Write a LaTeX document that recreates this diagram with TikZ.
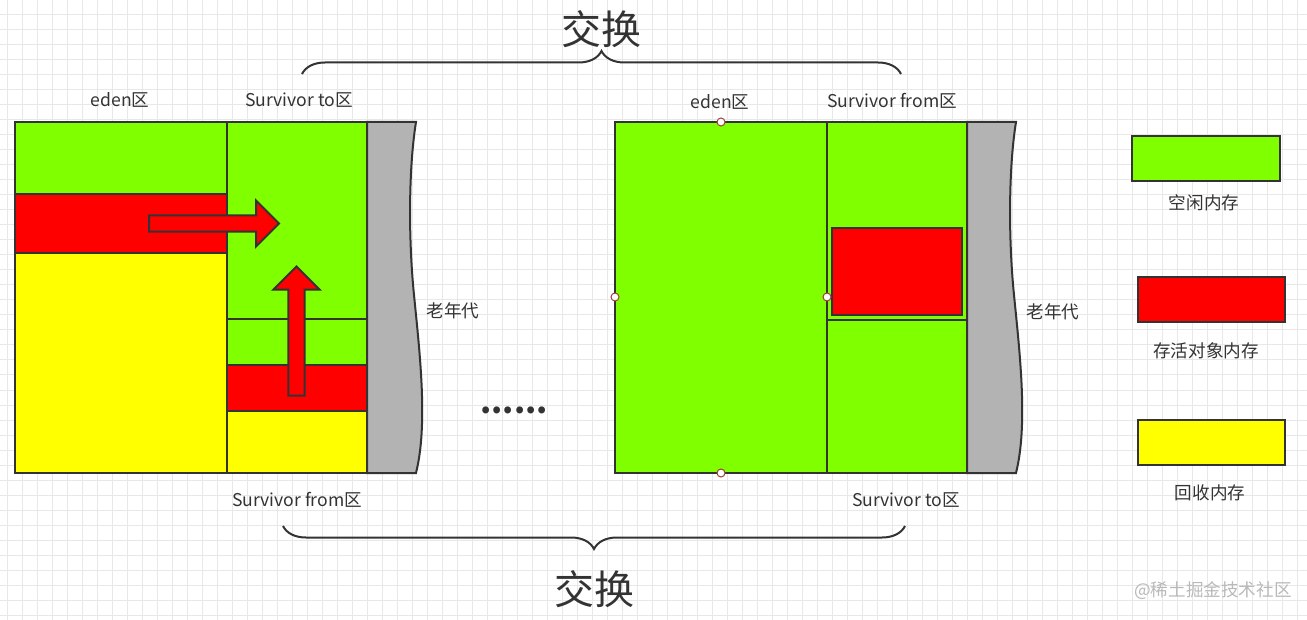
\documentclass[tikz,border=0pt]{standalone}
\usepackage{fontspec}
\setmainfont{Noto Sans CJK SC}
\usetikzlibrary{shapes.arrows,decorations.pathreplacing}
\definecolor{freegreen}{HTML}{80FF00}
\definecolor{livered}{HTML}{FF0000}
\definecolor{deadyellow}{HTML}{FFFF00}
\definecolor{oldgray}{HTML}{B3B3B3}
\definecolor{edgegray}{HTML}{333333}
\definecolor{gridgray}{HTML}{E8E8E8}
\definecolor{handlered}{HTML}{A33B39}

\begin{document}
\begin{tikzpicture}[x=0.5pt,y=-0.5pt]
			\tikzstyle{cell} = [draw=edgegray, line width=1pt]
			\tikzstyle{lbl} = [text=edgegray, font=\fontsize{8.8pt}{10pt}\selectfont]
			\tikzstyle{big} = [text=edgegray, font=\fontsize{20pt}{22pt}\selectfont]
			\tikzstyle{move} = [single arrow, draw=edgegray, fill=livered, line width=1pt, inner sep=3.6pt, minimum width=22pt, single arrow head extend=7.4pt, single arrow tip angle=90]
			\tikzstyle{handle} = [circle, draw=handlered, fill=white, line width=0.5pt, inner sep=0pt, minimum size=4pt]
			\tikzstyle{es} = [decorate, draw=edgegray, line width=1pt]
			\useasboundingbox [fill=white] (0,0) rectangle (1307,620);
			\foreach \gx in {7,22,...,1307}
				\draw [gridgray, line width=0.5pt] (\gx,0) -- (\gx,620);
			\foreach \gy in {0,15,...,620}
				\draw [gridgray, line width=0.5pt] (0,\gy) -- (1307,\gy);
			\draw [cell, fill=freegreen] (15,122) rectangle (227,194);
			\draw [cell, fill=livered] (15,194) rectangle (227,253);
			\draw [cell, fill=deadyellow] (15,253) rectangle (227,473);
			\draw [cell, fill=freegreen] (227,122) rectangle (367,319);
			\draw [cell, fill=freegreen] (227,319) rectangle (367,365);
			\draw [cell, fill=livered] (227,365) rectangle (367,411);
			\draw [cell, fill=deadyellow] (227,411) rectangle (367,473);
			\draw [cell, fill=oldgray] (367,122) -- (416,122) .. controls (409,165) and (408,235) .. (414,295) .. controls (420,355) and (428,425) .. (416,473) -- (367,473) -- cycle;
			\node [move, minimum height=65pt, anchor=tail] (v1) at (148,223.5) {};
			\node [move, minimum height=64.5pt, anchor=tail, shape border rotate=90] (v2) at (296.5,396.5) {};
			\node [lbl] (v3) at (120,100) {eden区};
			\node [lbl] (v4) at (299,100) {Survivor to区};
			\node [lbl] (v5) at (297,500) {Survivor from区};
			\node [lbl] (v6) at (453,311) {老年代};
			\node [lbl, font=\bfseries\fontsize{16pt}{16pt}\selectfont] (v7) at (514,410) {......};
			\draw [cell, fill=freegreen] (615,122) rectangle (827,473);
			\draw [cell, fill=freegreen] (827,122) rectangle (967,320);
			\draw [cell, fill=freegreen] (827,320) rectangle (967,473);
			\draw [cell, fill=livered] (832,228) rectangle (962,315);
			\draw [cell, fill=oldgray] (967,122) -- (1016,122) .. controls (1009,165) and (1008,235) .. (1014,295) .. controls (1020,355) and (1028,425) .. (1016,473) -- (967,473) -- cycle;
			\node [handle] (v8) at (721,122) {};
			\node [handle] (v9) at (615,297) {};
			\node [handle] (v10) at (827,297) {};
			\node [handle] (v11) at (721,473) {};
			\node [lbl] (v12) at (720,102) {eden区};
			\node [lbl] (v13) at (892,101) {Survivor from区};
			\node [lbl] (v14) at (906,500) {Survivor to区};
			\node [lbl] (v15) at (1053,312) {老年代};
			\draw [cell, fill=freegreen] (1132,136) rectangle (1280,181);
			\draw [cell, fill=livered] (1138,277) rectangle (1285,322);
			\draw [cell, fill=deadyellow] (1138,420) rectangle (1285,465);
			\node [lbl] (v16) at (1204,203) {空闲内存};
			\node [lbl] (v17) at (1206,351) {存活对象内存};
			\node [lbl] (v18) at (1210,493) {回收内存};
			\coordinate (v19) at (302,74);
			\coordinate (v20) at (901,74);
			\coordinate (v21) at (283,526);
			\coordinate (v22) at (905,526);
			\draw [es, decoration={brace, amplitude=11.5pt}] (v19) -- (v20);
			\draw [es, decoration={brace, amplitude=11.5pt, mirror}] (v21) -- (v22);
			\node [big] (v23) at (601,29) {交换};
			\node [big] (v24) at (594,589) {交换};
			\node [lbl, text=gray!55] (v25) at (1213,591) {@稀土掘金技术社区};
		\end{tikzpicture}
\end{document}
